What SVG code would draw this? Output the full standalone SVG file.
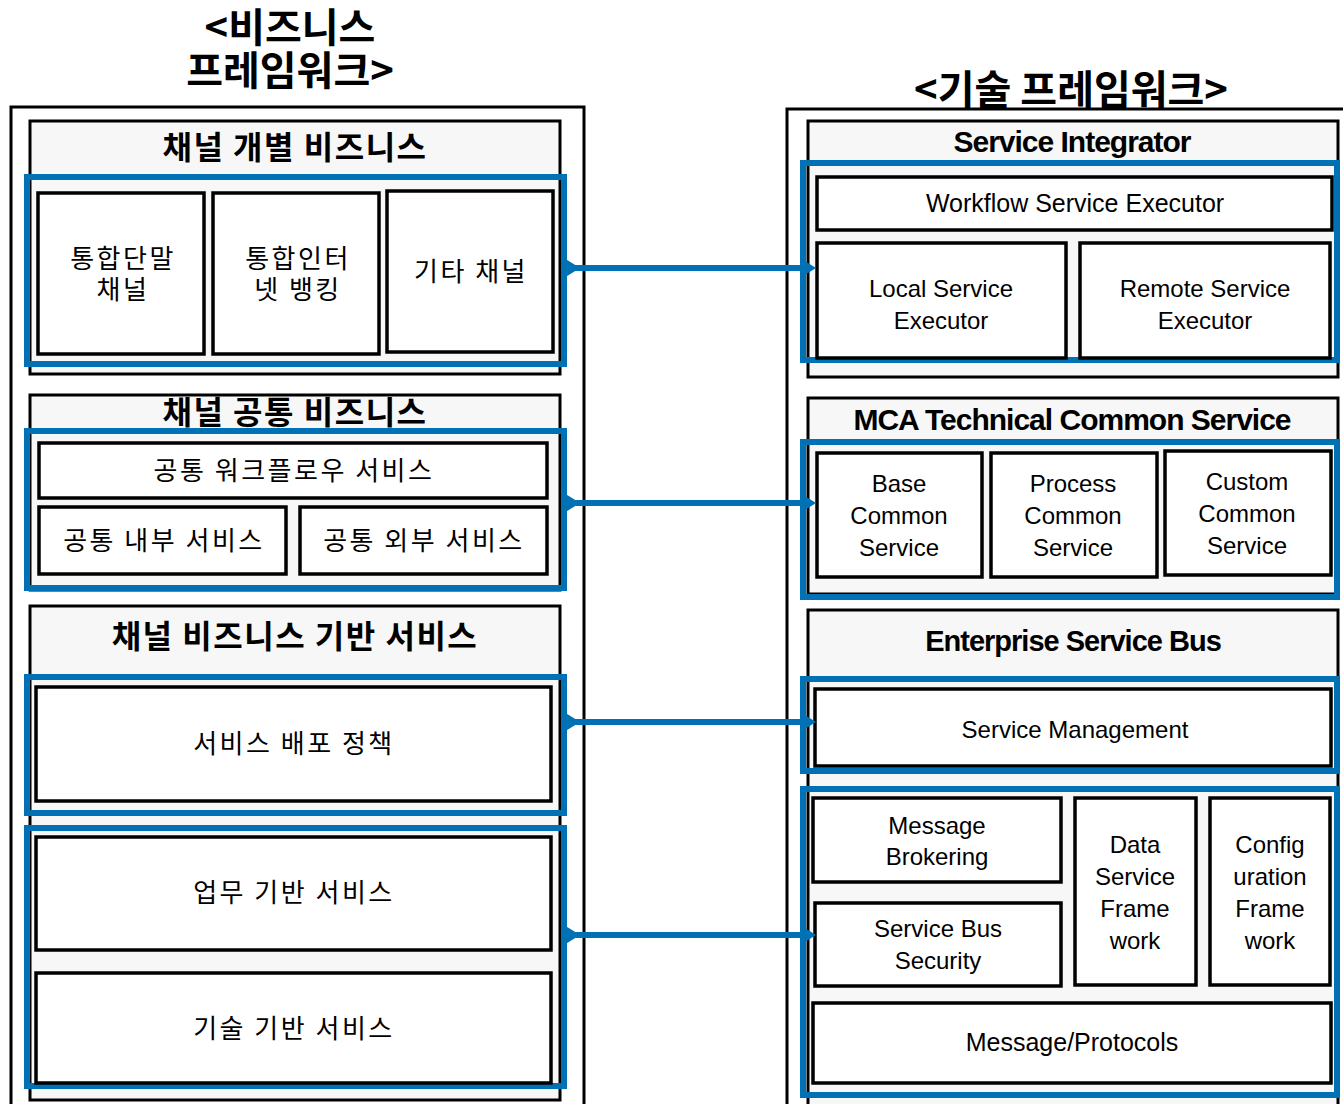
<svg xmlns="http://www.w3.org/2000/svg" width="1343" height="1104" viewBox="0 0 1343 1104">
<style>
.frame{fill:#ffffff;stroke:#000;stroke-width:3}
.grp{fill:#f7f7f7;stroke:#000;stroke-width:3}
.box{fill:#ffffff;stroke:#000;stroke-width:3.5}
.blue{fill:none;stroke:#0071b5;stroke-width:6}
.kt{font-family:"Noto Sans CJK KR","Noto Sans",sans-serif;font-size:26px;letter-spacing:2.5px;fill:#000;text-anchor:middle}
.kh{font-family:"Noto Sans CJK KR","Noto Sans",sans-serif;font-size:32px;letter-spacing:1.5px;font-weight:bold;fill:#000;text-anchor:middle}
.et{font-family:"Liberation Sans","Noto Sans",sans-serif;font-size:24px;fill:#000;text-anchor:middle}
.eh{font-family:"Liberation Sans","Noto Sans",sans-serif;font-size:30px;font-weight:bold;fill:#000;text-anchor:middle;letter-spacing:-1px}
.title{font-family:"Noto Sans CJK KR","Noto Sans",sans-serif;font-size:40px;font-weight:bold;fill:#000;text-anchor:middle}
.con{stroke:#0071b5;stroke-width:6;fill:none}
.tip{fill:#0071b5}
</style>

<text class="title" x="290" y="42"><tspan x="290" y="42">&lt;비즈니스</tspan><tspan x="290" y="85">프레임워크&gt;</tspan></text>
<text class="title" x="1071" y="104">&lt;기술 프레임워크&gt;</text>

<rect class="frame" x="11" y="107" width="573" height="1010"/>
<rect class="frame" x="787" y="109" width="570" height="1010"/>

<g id="left-channel-individual">
<rect class="grp" x="30" y="121" width="530" height="253"/>
<text class="kh" x="295" y="159">채널 개별 비즈니스</text>
<rect class="blue" x="27" y="177" width="537" height="187"/>
<g id="node-tonghap-danmal"><rect class="box" x="38" y="193" width="166" height="161"/>
<text class="kt"><tspan x="123" y="268">통합단말</tspan><tspan x="123" y="299">채널</tspan></text></g>
<g id="node-tonghap-internet"><rect class="box" x="213" y="193" width="166" height="161"/>
<text class="kt"><tspan x="298" y="268">통합인터</tspan><tspan x="298" y="299">넷 뱅킹</tspan></text></g>
<g id="node-gita"><rect class="box" x="387" y="191" width="166" height="161"/>
<text class="kt" x="471" y="281">기타 채널</text></g>
</g>

<g id="left-channel-common">
<rect class="grp" x="30" y="395" width="530" height="195"/>
<text class="kh" x="295" y="424">채널 공통 비즈니스</text>
<rect class="blue" x="27" y="431" width="537" height="157"/>
<g id="node-common-workflow"><rect class="box" x="39" y="443" width="508" height="55"/>
<text class="kt" x="294" y="480">공통 워크플로우 서비스</text></g>
<g id="node-common-internal"><rect class="box" x="39" y="507" width="247" height="67"/>
<text class="kt" x="164" y="550">공통 내부 서비스</text></g>
<g id="node-common-external"><rect class="box" x="300" y="507" width="247" height="67"/>
<text class="kt" x="424" y="550">공통 외부 서비스</text></g>
</g>

<g id="left-channel-base">
<rect class="grp" x="30" y="606" width="530" height="494"/>
<text class="kh" x="295" y="648">채널 비즈니스 기반 서비스</text>
<rect class="blue" x="27" y="677" width="537" height="136"/>
<g id="node-deploy-policy"><rect class="box" x="36" y="687" width="515" height="114"/>
<text class="kt" x="294" y="753">서비스 배포 정책</text></g>
<rect class="blue" x="27" y="828" width="537" height="258"/>
<g id="node-biz-base"><rect class="box" x="36" y="837" width="515" height="113"/>
<text class="kt" x="294" y="902">업무 기반 서비스</text></g>
<g id="node-tech-base"><rect class="box" x="36" y="973" width="515" height="110"/>
<text class="kt" x="294" y="1038">기술 기반 서비스</text></g>
</g>

<g id="right-service-integrator">
<rect class="grp" x="808" y="121" width="530" height="256"/>
<text class="eh" x="1072" y="152">Service Integrator</text>
<rect class="blue" x="803" y="163" width="534" height="197"/>
<g id="node-workflow-executor"><rect class="box" x="817" y="177" width="515" height="53"/>
<text class="et" x="1075" y="212" style="font-size:25px">Workflow Service Executor</text></g>
<g id="node-local-executor"><rect class="box" x="817" y="243" width="249" height="115"/>
<text class="et"><tspan x="941" y="297">Local Service</tspan><tspan x="941" y="329">Executor</tspan></text></g>
<g id="node-remote-executor"><rect class="box" x="1080" y="243" width="250" height="115"/>
<text class="et"><tspan x="1205" y="297">Remote Service</tspan><tspan x="1205" y="329">Executor</tspan></text></g>
</g>

<g id="right-mca">
<rect class="grp" x="808" y="398" width="530" height="196"/>
<text class="eh" x="1072" y="430">MCA Technical Common Service</text>
<rect class="blue" x="803" y="442" width="534" height="155"/>
<g id="node-base-common"><rect class="box" x="817" y="453" width="165" height="124"/>
<text class="et"><tspan x="899" y="492">Base</tspan><tspan x="899" y="524">Common</tspan><tspan x="899" y="556">Service</tspan></text></g>
<g id="node-process-common"><rect class="box" x="991" y="453" width="166" height="124"/>
<text class="et"><tspan x="1073" y="492">Process</tspan><tspan x="1073" y="524">Common</tspan><tspan x="1073" y="556">Service</tspan></text></g>
<g id="node-custom-common"><rect class="box" x="1165" y="451" width="166" height="124"/>
<text class="et"><tspan x="1247" y="490">Custom</tspan><tspan x="1247" y="522">Common</tspan><tspan x="1247" y="554">Service</tspan></text></g>
</g>

<g id="right-esb">
<rect class="grp" x="808" y="610" width="530" height="500"/>
<text class="eh" x="1073" y="651" style="font-size:29px">Enterprise Service Bus</text>
<rect class="blue" x="803" y="679" width="534" height="92"/>
<g id="node-service-management"><rect class="box" x="815" y="689" width="516" height="77"/>
<text class="et" x="1075" y="738">Service Management</text></g>
<rect class="blue" x="803" y="789" width="534" height="306"/>
<g id="node-message-brokering"><rect class="box" x="813" y="798" width="248" height="84"/>
<text class="et"><tspan x="937" y="834">Message</tspan><tspan x="937" y="865">Brokering</tspan></text></g>
<g id="node-bus-security"><rect class="box" x="815" y="903" width="246" height="83"/>
<text class="et"><tspan x="938" y="937">Service Bus</tspan><tspan x="938" y="969">Security</tspan></text></g>
<g id="node-data-service"><rect class="box" x="1075" y="798" width="121" height="187"/>
<text class="et"><tspan x="1135" y="853">Data</tspan><tspan x="1135" y="885">Service</tspan><tspan x="1135" y="917">Frame</tspan><tspan x="1135" y="949">work</tspan></text></g>
<g id="node-configuration"><rect class="box" x="1210" y="798" width="120" height="187"/>
<text class="et"><tspan x="1270" y="853">Config</tspan><tspan x="1270" y="885">uration</tspan><tspan x="1270" y="917">Frame</tspan><tspan x="1270" y="949">work</tspan></text></g>
<g id="node-message-protocols"><rect class="box" x="813" y="1003" width="518" height="80"/>
<text class="et" x="1072" y="1051" style="font-size:25px">Message/Protocols</text></g>
</g>

<g id="connectors">
<line class="con" x1="566" y1="268" x2="808" y2="268"/>
<polygon class="tip" points="564,258 580,268 564,278"/>
<polygon class="tip" points="800,258 816,268 800,278"/>
<line class="con" x1="566" y1="503" x2="808" y2="503"/>
<polygon class="tip" points="564,493 580,503 564,513"/>
<polygon class="tip" points="800,493 816,503 800,513"/>
<line class="con" x1="566" y1="722" x2="808" y2="722"/>
<polygon class="tip" points="564,712 580,722 564,732"/>
<polygon class="tip" points="800,712 816,722 800,732"/>
<line class="con" x1="566" y1="935" x2="808" y2="935"/>
<polygon class="tip" points="564,925 580,935 564,945"/>
<polygon class="tip" points="800,925 816,935 800,945"/>
</g>
</svg>
